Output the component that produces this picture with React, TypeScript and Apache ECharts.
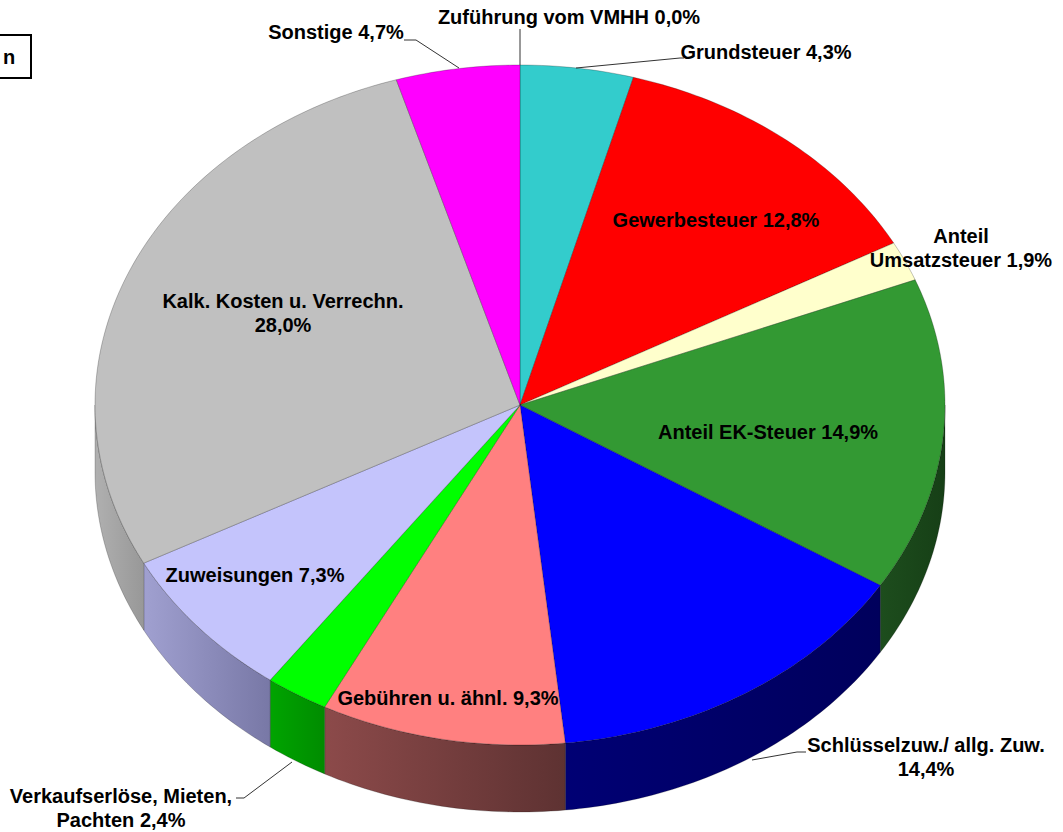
import React, { useEffect, useRef } from "react";
import * as echarts from "echarts";

// ---- data ----
const categories = [
  "Zuführung vom VMHH",
  "Grundsteuer",
  "Gewerbesteuer",
  "Anteil Umsatzsteuer",
  "Anteil EK-Steuer",
  "Schlüsselzuw./ allg. Zuw.",
  "Gebühren u. ähnl.",
  "Verkaufserlöse, Mieten, Pachten",
  "Zuweisungen",
  "Kalk. Kosten u. Verrechn.",
  "Sonstige",
];
const shares = [0.0, 4.3, 12.8, 1.9, 14.9, 14.4, 9.3, 2.4, 7.3, 28.0, 4.7];

// ---- styles ----
const topColors = [
  "#ffffff", "#33cccc", "#ff0000", "#ffffcc", "#339933", "#0000ff",
  "#ff8080", "#00ff00", "#c4c4fc", "#c0c0c0", "#ff00ff",
];
const sideColors = [
  ["#999", "#999"], ["#1a6666", "#1a6666"], ["#800000", "#800000"], ["#808066", "#808066"],
  ["#1d4d1d", "#163f16"], ["#000074", "#00005c"], ["#8c4a4a", "#5e3232"],
  ["#00a400", "#008c00"], ["#a0a0d0", "#7878a6"], ["#b0b0b0", "#989898"], ["#800080", "#800080"],
];

// label layout: [centerX, centerY, words before line break (0 = none)]
const labelLayout = [
  [569, 17, 0], [766, 52, 0], [716, 220, 0], [961, 248, 1], [768, 432, 0],
  [926, 757, 3], [448, 698, 0], [121, 808, 2], [255, 575, 0], [283, 313, 4], [336, 32, 0],
];
const leaderLines = [
  [[520, 29], [520, 65]],
  [[404, 40], [416, 40], [459, 68]],
  [[576, 68], [680, 58], [684, 58]],
  [[752, 760], [797, 752], [806, 752]],
  [[236, 798], [244, 798], [292, 762]],
];

const CX = 520, CY = 405, RX = 425, RY = 340, DEPTH = 67;

const pct = (v: number) => v.toFixed(1).replace(".", ",") + "%";

function labelText(i: number) {
  const words = (categories[i] + " " + pct(shares[i])).split(" ");
  const brk = labelLayout[i][2] as number;
  if (!brk) return words.join(" ");
  return words.slice(0, brk).join(" ") + "\n" + words.slice(brk).join(" ");
}

export default function App() {
  const ref = useRef<HTMLDivElement>(null);
  useEffect(() => {
    if (!ref.current) return;
    const chart = echarts.init(ref.current, undefined, { renderer: "svg" });
    const total = shares.reduce((a, b) => a + b, 0);
    const pt = (deg: number, dy = 0) => {
      const r = (deg * Math.PI) / 180;
      return [CX + RX * Math.sin(r), CY - RY * Math.cos(r) + dy];
    };

    const renderItem = (params: any, api: any) => {
      const i = params.dataIndex;
      const v = api.value(0);
      if (!(v > 0)) return { type: "group", children: [] };
      let start = 0;
      for (let k = 0; k < i; k++) start += shares[k];
      const a0 = (start / total) * 360;
      const a1 = ((start + v) / total) * 360;
      const children: any[] = [];
      const steps = Math.max(2, Math.ceil(a1 - a0));
      const top: number[][] = [[CX, CY]];
      for (let s = 0; s <= steps; s++) top.push(pt(a0 + ((a1 - a0) * s) / steps));
      children.push({
        type: "polygon",
        shape: { points: top },
        style: { fill: topColors[i], stroke: "rgba(0,0,0,0.4)", lineWidth: 0.6 },
        z2: 10,
      });
      const s0 = Math.max(a0, 90), s1 = Math.min(a1, 270);
      if (s1 > s0) {
        const n = Math.max(2, Math.ceil(s1 - s0));
        const upper: number[][] = [], lower: number[][] = [];
        for (let s = 0; s <= n; s++) {
          const a = s0 + ((s1 - s0) * s) / n;
          upper.push(pt(a));
          lower.push(pt(a, DEPTH));
        }
        const pts = upper.concat(lower.reverse());
        children.push({
          type: "polygon",
          shape: { points: pts },
          style: {
            fill: new echarts.graphic.LinearGradient(0, 0, 1, 0, [
              { offset: 0, color: sideColors[i][0] },
              { offset: 1, color: sideColors[i][1] },
            ]),
            stroke: "rgba(0,0,0,0.35)",
            lineWidth: 0.6,
          },
          z2: 1,
        });
      }
      return { type: "group", children };
    };

    const textStyleBase = {
      fontFamily: "Liberation Sans, Arial, sans-serif",
      fontSize: 20,
      fontWeight: "bold",
      fill: "#000",
      align: "center",
      verticalAlign: "middle",
      lineHeight: 24,
    };

    const graphics: any[] = [];
    leaderLines.forEach((pts) => {
      graphics.push({
        type: "polyline",
        shape: { points: pts },
        style: { stroke: "#333", lineWidth: 1, fill: null },
        z: 5,
      });
    });
    categories.forEach((_, i) => {
      graphics.push({
        type: "text",
        x: labelLayout[i][0],
        y: labelLayout[i][1],
        style: { ...textStyleBase, text: labelText(i) },
        z: 10,
      });
    });
    graphics.push({
      type: "rect",
      shape: { x: -4, y: 35, width: 35, height: 43 },
      style: { fill: "#fff", stroke: "#000", lineWidth: 2 },
      z: 5,
    });
    graphics.push({
      type: "text",
      x: 9,
      y: 57,
      style: { ...textStyleBase, text: "n" },
      z: 10,
    });

    chart.setOption({
      animation: false,
      backgroundColor: "#ffffff",
      series: [
        {
          type: "custom",
          coordinateSystem: "none",
          renderItem,
          data: shares.map((v, i) => ({ name: categories[i], value: [v] })),
          silent: true,
        },
      ],
      graphic: graphics,
    });
    return () => chart.dispose();
  }, []);
  return (
    <div
      ref={ref}
      style={{ position: "absolute", left: 0, top: 0, width: 1063, height: 832 }}
    />
  );
}
